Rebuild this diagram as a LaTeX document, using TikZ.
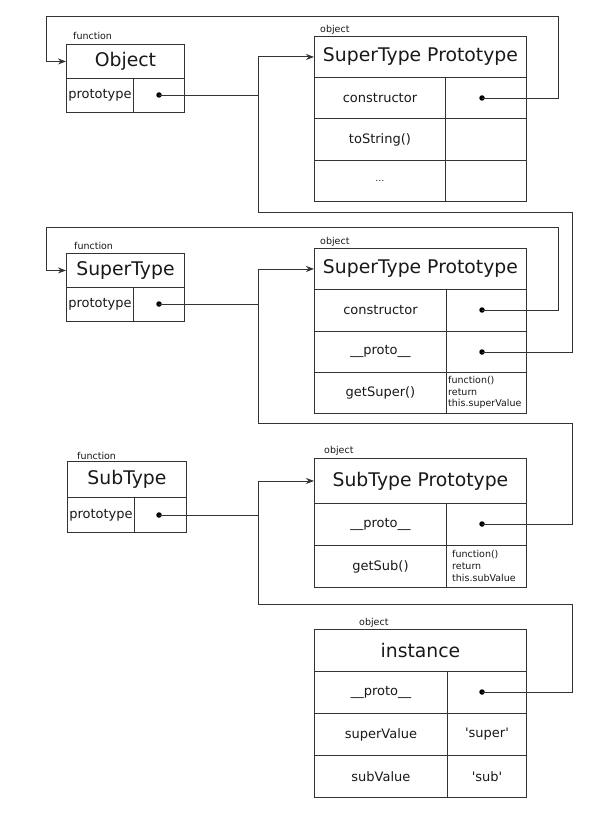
\documentclass[tikz,border=0pt]{standalone}
\usepackage{fontspec}
\setmainfont{DejaVu Sans}[Ligatures=TeXOff]
\usetikzlibrary{arrows.meta}
\begin{document}
\begin{tikzpicture}[x=1pt,y=-1pt,
  box/.style={draw=black!80, line width=0.9pt, inner sep=0pt, anchor=north west, text=black!90},
  hdr/.style={box, font=\fontsize{18.8}{22}\selectfont},
  cellt/.style={box, font=\fontsize{13}{15}\selectfont},
  lbl/.style={inner sep=0pt, anchor=base west, font=\fontsize{9.5}{11}\selectfont, text=black!90},
  code/.style={inner sep=0pt, anchor=west, align=left, font=\fontsize{9.5}{11.7}\selectfont, text=black!90},
  dot/.style={circle, fill=black, inner sep=0pt, minimum size=5.5pt},
  wire/.style={draw=black!80, line width=0.9pt},
  arr/.style={wire, -{Stealth[length=8pt,width=6pt]}}]
\fill[white] (0,0) rectangle (602,832);
\useasboundingbox (0,0) rectangle (602,832);

% ---------- group 1 ----------
\node[lbl] (lf1) at (73,40) {function};
\node[hdr, minimum width=118pt, minimum height=34pt] (objH) at (66,44) {Object};
\node[cellt, minimum width=67pt, minimum height=34pt] (objK) at (66,78) {prototype};
\node[cellt, minimum width=51pt, minimum height=34pt] (objV) at (133,78) {};
\node[dot] (objD) at (159,95) {};

\node[lbl] (lo1) at (320,33) {object};
\node[hdr, minimum width=212pt, minimum height=41pt] (p1H) at (314,36) {SuperType Prototype};
\node[cellt, minimum width=131pt, minimum height=41pt] (p1K1) at (314,77) {constructor};
\node[cellt, minimum width=81pt, minimum height=41pt] (p1V1) at (445,77) {};
\node[cellt, minimum width=131pt, minimum height=42pt] (p1K2) at (314,118) {toString()};
\node[cellt, minimum width=81pt, minimum height=42pt] (p1V2) at (445,118) {};
\node[cellt, minimum width=131pt, minimum height=41pt, font=\fontsize{9}{11}\selectfont] (p1K3) at (314,160) {…};
\node[cellt, minimum width=81pt, minimum height=41pt] (p1V3) at (445,160) {};
\node[dot] (p1D) at (482,98) {};

% ---------- group 2 ----------
\node[lbl] (lf2) at (74,249) {function};
\node[hdr, minimum width=118pt, minimum height=34pt] (stH) at (66,253) {SuperType};
\node[cellt, minimum width=67pt, minimum height=34pt] (stK) at (66,287) {prototype};
\node[cellt, minimum width=51pt, minimum height=34pt] (stV) at (133,287) {};
\node[dot] (stD) at (159,304) {};

\node[lbl] (lo2) at (320,244.5) {object};
\node[hdr, minimum width=212pt, minimum height=41pt] (p2H) at (314,248) {SuperType Prototype};
\node[cellt, minimum width=132pt, minimum height=42pt] (p2K1) at (314,289) {constructor};
\node[cellt, minimum width=80pt, minimum height=42pt] (p2V1) at (446,289) {};
\node[cellt, minimum width=132pt, minimum height=41pt] (p2K2) at (314,331) {\_\_proto\_\_};
\node[cellt, minimum width=80pt, minimum height=41pt] (p2V2) at (446,331) {};
\node[cellt, minimum width=132pt, minimum height=41pt] (p2K3) at (314,372) {getSuper()};
\node[cellt, minimum width=80pt, minimum height=41pt] (p2V3) at (446,372) {};
\node[code] (p2C) at (448,392.5) {function()\\return\\this.superValue};
\node[dot] (p2D1) at (482,310) {};
\node[dot] (p2D2) at (482,352) {};

% ---------- group 3 ----------
\node[lbl] (lf3) at (77,459.5) {function};
\node[hdr, minimum width=119pt, minimum height=36pt] (sbH) at (67,461) {SubType};
\node[cellt, minimum width=67pt, minimum height=35pt] (sbK) at (67,497) {prototype};
\node[cellt, minimum width=52pt, minimum height=35pt] (sbV) at (134,497) {};
\node[dot] (sbD) at (159,515) {};

\node[lbl] (lo3) at (324,453) {object};
\node[hdr, minimum width=212pt, minimum height=45pt] (p3H) at (314,458) {SubType Prototype};
\node[cellt, minimum width=132pt, minimum height=42pt] (p3K1) at (314,503) {\_\_proto\_\_};
\node[cellt, minimum width=80pt, minimum height=42pt] (p3V1) at (446,503) {};
\node[cellt, minimum width=132pt, minimum height=42pt] (p3K2) at (314,545) {getSub()};
\node[cellt, minimum width=80pt, minimum height=42pt] (p3V2) at (446,545) {};
\node[code] (p3C) at (452,566) {function()\\return\\this.subValue};
\node[dot] (p3D) at (482,524) {};

% ---------- instance ----------
\node[lbl] (lo4) at (359,625) {object};
\node[hdr, minimum width=212pt, minimum height=42pt] (inH) at (314,629) {instance};
\node[cellt, minimum width=133pt, minimum height=42pt] (inK1) at (314,671) {\_\_proto\_\_};
\node[cellt, minimum width=79pt, minimum height=42pt] (inV1) at (447,671) {};
\node[cellt, minimum width=133pt, minimum height=42pt] (inK2) at (314,713) {superValue};
\node[cellt, minimum width=79pt, minimum height=42pt] (inV2) at (447,713) {'super'};
\node[cellt, minimum width=133pt, minimum height=42pt] (inK3) at (314,755) {subValue};
\node[cellt, minimum width=79pt, minimum height=42pt] (inV3) at (447,755) {'sub'};
\node[dot] (inD) at (482,692) {};

% ---------- connectors ----------
\coordinate (t1R) at (558,16);
\coordinate (t1L) at (46,16);
\draw[arr] (p1D.center) -| (t1R) -| (t1L) |- (objH.west);

\coordinate (j1) at (258,212);
\coordinate (r1) at (572,212);
\draw[wire] (objD.center) -- (objD.center -| j1);
\draw[arr] (j1) |- (p1H.west);
\draw[wire] (p2D2.center) -| (r1) -- (j1);

\coordinate (t2R) at (558,227);
\coordinate (t2L) at (46,227);
\draw[arr] (p2D1.center) -| (t2R) -| (t2L) |- (stH.west);

\coordinate (j2) at (258,423);
\coordinate (r2) at (572,423);
\draw[wire] (stD.center) -- (stD.center -| j2);
\draw[arr] (j2) |- (p2H.west);
\draw[wire] (p3D.center) -| (r2) -- (j2);

\coordinate (j3) at (258,604);
\coordinate (r3) at (572,604);
\draw[wire] (sbD.center) -- (sbD.center -| j3);
\draw[arr] (j3) |- (p3H.west);
\draw[wire] (inD.center) -| (r3) -- (j3);
\end{tikzpicture}
\end{document}
